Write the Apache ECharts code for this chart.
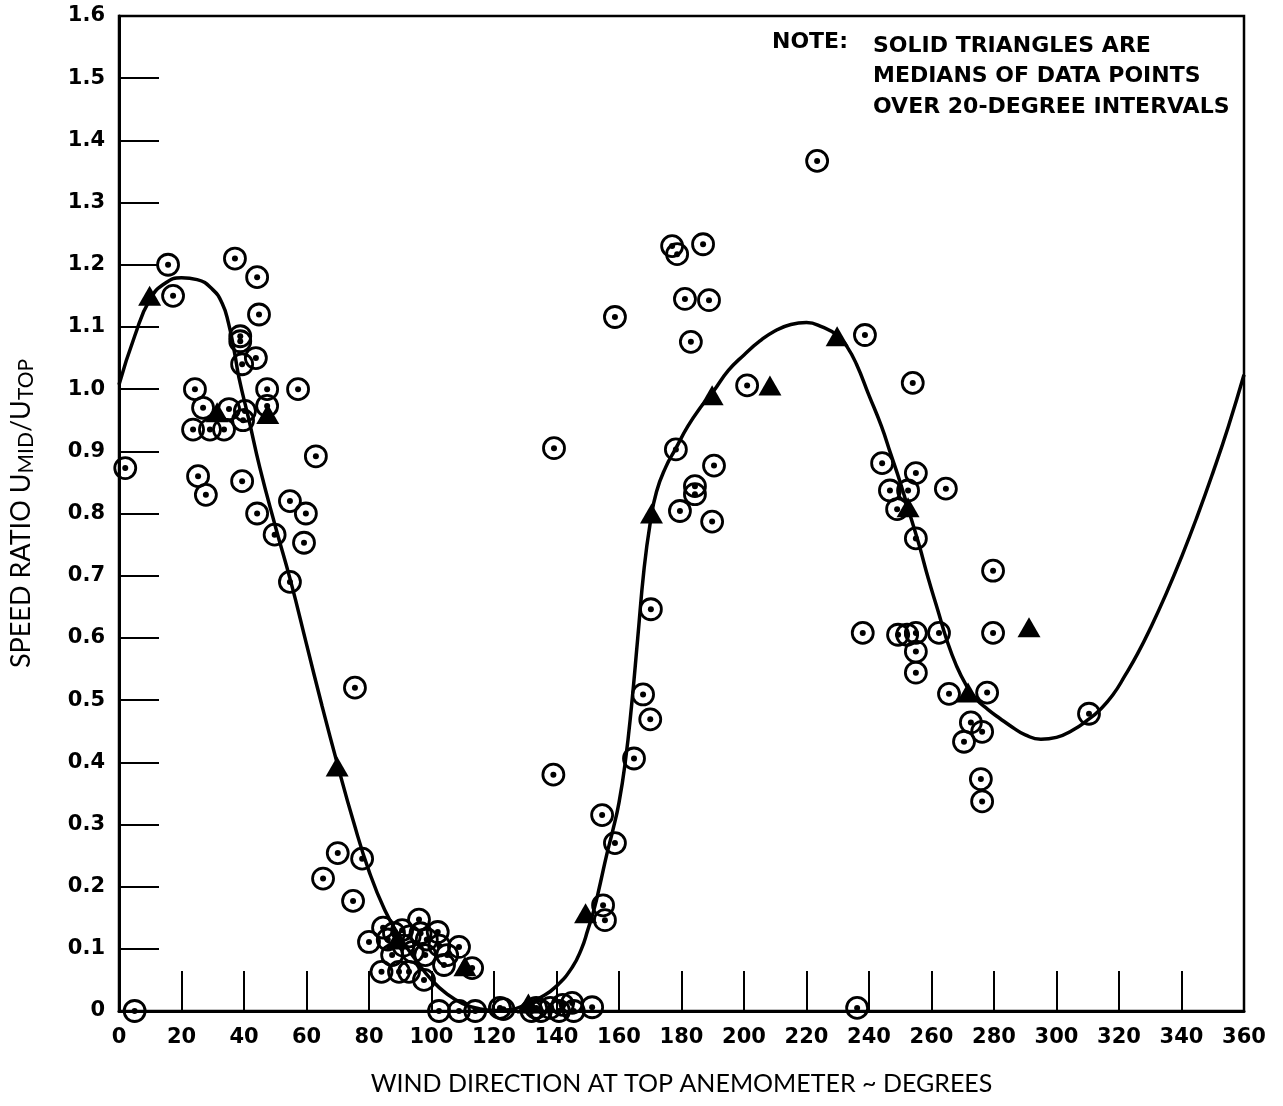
<!DOCTYPE html>
<html>
<head>
<meta charset="utf-8">
<title>Speed ratio vs wind direction</title>
<script src="https://cdn.jsdelivr.net/npm/echarts@6/dist/echarts.min.js"></script>
<style>
  html, body { margin: 0; padding: 0; background: #fff; }
  #chart { width: 1283px; height: 1106px; }
</style>
</head>
<body>
<div id="chart"></div>
<script>
// Individual observations: [wind direction (deg), U_MID / U_TOP]
const observations = [
  [2, 0.873], [5, 0], [15.7, 1.20], [17.3, 1.15],
  [24.3, 1.00], [23.7, 0.935], [25.3, 0.86], [26.9, 0.97], [27.8, 0.83], [29.1, 0.935],
  [33.6, 0.935], [35.2, 0.968], [37.1, 1.21], [38.8, 1.085], [38.8, 1.077], [39.4, 1.04],
  [39.4, 0.852], [39.7, 0.95], [40.3, 0.965],
  [44.2, 1.18], [44.8, 1.12], [43.8, 1.05], [47.4, 1.00], [57.3, 1.00], [47.4, 0.973],
  [44.2, 0.80], [49.8, 0.766], [54.7, 0.82], [59.8, 0.80], [59.2, 0.753], [54.7, 0.69],
  [63, 0.892], [75.5, 0.52], [70, 0.254], [77.8, 0.245], [65.3, 0.213], [74.9, 0.177],
  [80, 0.111], [84, 0.063], [84.5, 0.134], [86, 0.115], [87.4, 0.09], [88, 0.125],
  [89.6, 0.063], [90.6, 0.13], [91, 0.105], [92.8, 0.063], [93, 0.12], [94, 0.095],
  [96, 0.147], [96.5, 0.125], [97.6, 0.05], [98, 0.09], [98.5, 0.115],
  [102, 0.127], [102.5, 0.105], [104, 0.074], [105, 0.09], [108.8, 0.103], [113, 0.069],
  [102.4, 0], [108.8, 0], [114, 0],
  [121.9, 0.005], [123, 0.003], [132, 0], [133.5, 0.005], [135, 0], [138, 0.005],
  [139.2, 0.905], [139, 0.38],
  [140.8, 0], [142, 0.01], [145, 0.013], [145.5, 0], [151.4, 0.006],
  [154.6, 0.315], [158.7, 0.27], [154.9, 0.17], [155.5, 0.146], [158.7, 1.116],
  [164.8, 0.406], [167.7, 0.509], [170, 0.469], [170.2, 0.646],
  [177, 1.23], [178.6, 1.217], [178.2, 0.903], [179.5, 0.804],
  [181.1, 1.145], [183, 1.076], [186.9, 1.233], [188.8, 1.143], [184.3, 0.844],
  [184.3, 0.831], [190.4, 0.877], [189.8, 0.787],
  [201, 1.006],
  [223.4, 1.367], [238.7, 1.087], [238, 0.608], [236.2, 0.005],
  [244.2, 0.881], [246.7, 0.837], [249, 0.807], [252.5, 0.837], [254, 1.01], [255, 0.865],
  [255, 0.76], [249.3, 0.605], [252.2, 0.605], [255, 0.608], [255, 0.578], [255, 0.544],
  [262.4, 0.608], [264.6, 0.84], [265.6, 0.51], [277.8, 0.512], [279.7, 0.708],
  [279.7, 0.608], [272.6, 0.464], [276.2, 0.449], [270.4, 0.433], [275.8, 0.373],
  [276.2, 0.337],
  [310.4, 0.478]
];

// Medians over 20-degree intervals
const medians = [
  [9.8, 1.15], [31.4, 0.963], [47.6, 0.96], [69.8, 0.393], [89, 0.115],
  [110.7, 0.072], [131, 0.012], [149.3, 0.157], [170.4, 0.80], [189.8, 0.99],
  [208.3, 1.006], [229.8, 1.085], [252.5, 0.81], [271.7, 0.512], [291.2, 0.617]
];

// Faired curve through the medians
const fitCurve = [
  [0, 1.007], [5, 1.085], [10, 1.145], [15, 1.171], [20, 1.179], [25, 1.176],
  [30, 1.16], [33, 1.138], [35, 1.107], [37, 1.058], [38.4, 1.018], [41.6, 0.95],
  [45, 0.875], [50, 0.78], [55, 0.69], [60, 0.59], [65, 0.49], [70, 0.395],
  [75, 0.305], [80, 0.225], [85, 0.163], [90, 0.118], [95, 0.082], [100, 0.05],
  [105, 0.027], [110, 0.012], [115, 0.004], [120, 0.001], [125, 0.002], [130, 0.01],
  [135, 0.022], [140, 0.04], [145, 0.07], [148, 0.1], [150, 0.13], [152, 0.163],
  [154, 0.205], [156, 0.25], [158, 0.29], [160, 0.335], [162, 0.40], [164, 0.49],
  [166, 0.60], [168, 0.71], [170, 0.785], [172, 0.835], [175, 0.875], [178, 0.903],
  [182, 0.94], [186, 0.97], [190, 0.995], [195, 1.03], [200, 1.055], [205, 1.077],
  [210, 1.094], [215, 1.104], [220, 1.107], [225, 1.10], [230, 1.086], [233, 1.068],
  [236, 1.04], [240, 0.99], [244, 0.94], [247, 0.895], [250, 0.85], [253, 0.80],
  [256, 0.75], [259, 0.695], [262, 0.645], [265, 0.595], [268, 0.555], [271, 0.525],
  [274, 0.503], [278, 0.485], [282, 0.47], [286, 0.456], [290, 0.444], [295, 0.437],
  [300, 0.44], [305, 0.451], [310, 0.468], [314, 0.485], [318, 0.508],
  [322, 0.54], [326, 0.575], [330, 0.615], [335, 0.67], [340, 0.73], [345, 0.795],
  [350, 0.865], [355, 0.94], [360, 1.023]
];

const noteLines = [
  'SOLID TRIANGLES ARE',
  'MEDIANS OF DATA POINTS',
  'OVER 20-DEGREE INTERVALS'
];

const chart = echarts.init(document.getElementById('chart'), null, { renderer: 'canvas' });

const labelFont = '"DejaVu Sans", sans-serif';
const titleFont = 'Lato, "Open Sans", sans-serif';

chart.setOption({
  backgroundColor: '#ffffff',
  animation: false,
  grid: {
    left: 117, right: 39, top: 16, bottom: 95,
    show: true, borderColor: '#000', borderWidth: 2.5, backgroundColor: 'transparent'
  },
  xAxis: {
    type: 'value', min: 0, max: 360, interval: 20,
    name: 'WIND DIRECTION AT TOP ANEMOMETER ~ DEGREES',
    nameLocation: 'middle', nameGap: 60,
    nameTextStyle: { fontFamily: titleFont, fontSize: 25, color: '#000' },
    axisLine: { lineStyle: { color: '#000', width: 3 } },
    axisTick: { inside: true, length: 40, lineStyle: { color: '#000', width: 2 } },
    axisLabel: { color: '#000', fontFamily: labelFont, fontWeight: 'bold', fontSize: 21, margin: 16 },
    splitLine: { show: false }
  },
  yAxis: {
    type: 'value', min: 0, max: 1.6, interval: 0.1,
    name: 'SPEED RATIO U{s|MID}/U{s|TOP}',
    nameLocation: 'middle', nameGap: 82, nameRotate: 90,
    nameTextStyle: {
      fontFamily: titleFont, fontSize: 27, color: '#000',
      rich: { s: { fontFamily: titleFont, fontSize: 21, verticalAlign: 'bottom', padding: [10, 0, 0, 0] } }
    },
    axisLine: { lineStyle: { color: '#000', width: 3 } },
    axisTick: { inside: true, length: 40, lineStyle: { color: '#000', width: 2 } },
    axisLabel: {
      color: '#000', fontFamily: labelFont, fontWeight: 'bold', fontSize: 21, margin: 14,
      formatter: v => (v === 0 ? '0' : v.toFixed(1))
    },
    splitLine: { show: false }
  },
  series: [
    {
      name: 'fit', type: 'line', data: fitCurve, smooth: 0.5, showSymbol: false,
      lineStyle: { color: '#000', width: 3.5 }, z: 2
    },
    {
      name: 'observations', type: 'scatter', data: observations,
      symbol: 'circle', symbolSize: 21,
      itemStyle: { color: 'rgba(0,0,0,0)', borderColor: '#000', borderWidth: 2.8, opacity: 1 }, z: 3
    },
    {
      name: 'observationCentres', type: 'scatter', data: observations,
      symbol: 'circle', symbolSize: 6, itemStyle: { color: '#000', opacity: 1 }, z: 3
    },
    {
      name: 'medians', type: 'scatter', data: medians,
      symbol: 'triangle', symbolSize: [23, 20], itemStyle: { color: '#000', opacity: 1 }, z: 4
    }
  ],
  graphic: [
    {
      type: 'text', left: 772, top: 31,
      style: { text: 'NOTE:', font: 'bold 22px "DejaVu Sans", sans-serif', fill: '#000' }
    },
    {
      type: 'text', left: 873, top: 31,
      style: { text: noteLines.join('\n'), font: 'bold 22px "DejaVu Sans", sans-serif', lineHeight: 30.5, fill: '#000' }
    }
  ]
});
</script>
</body>
</html>
